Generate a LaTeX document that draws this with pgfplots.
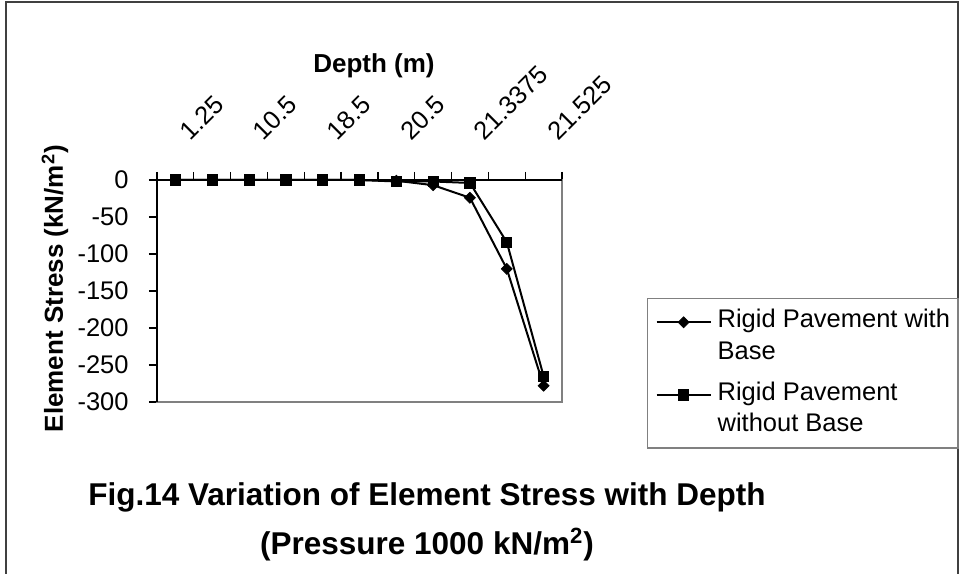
\documentclass[border=0pt]{standalone}
\usepackage{fontspec}
\setmainfont{Liberation Sans}
\usepackage{pgfplots}
\pgfplotsset{compat=1.18}
\begin{document}
\begin{tikzpicture}[x=1pt,y=1pt]
\useasboundingbox (0,0) rectangle (481.5,286.5);
\draw[line width=0.6pt, color=black!75] (3,-5) -- (3,285.5) -- (479,285.5) -- (479,-5);
\begin{axis}[
  at={(78.5pt,85.5pt)}, anchor=south west,
  scale only axis, width=202.5pt, height=111pt,
  xmin=-0.5, xmax=10.5, ymin=-300, ymax=0,
  clip=false,
  axis line style={draw=black!50, line width=0.6pt},
  xtick={0,2,4,6,8,10},
  xticklabels={1.25,10.5,18.5,20.5,21.3375,21.525},
  minor xtick={-0.5,0.5,1.5,2.5,3.5,4.5,5.5,6.5,7.5,8.5,9.5,10.5},
  xtick pos=right, xticklabel pos=right,
  tick align=outside, major tick length=4pt, minor tick length=4pt,
  tick style={black, line width=0.6pt},
  minor tick style={black, line width=0.6pt},
  every major x tick/.append style={draw=none},
  xticklabel style={font=\fontsize{12.75}{15}\selectfont, inner sep=0pt, anchor=south west, xshift=7.5pt, yshift=15pt, rotate=45},
  ytick={-300,-250,-200,-150,-100,-50,0},
  yticklabels={-300,-250,-200,-150,-100,-50,0},
  ytick pos=left,
  yticklabel style={font=\fontsize{12.75}{15}\selectfont, anchor=east, inner sep=0pt, xshift=-10pt},
  xlabel={Depth (m)},
  xlabel style={at={(axis description cs:0.5358,1.4851)}, anchor=base, font=\bfseries\fontsize{13}{15}\selectfont},
  ylabel={Element Stress (kN/m\textsuperscript{2})},
  ylabel style={at={(axis description cs:-0.2321,0.5104)}, anchor=base, font=\bfseries\fontsize{13}{15}\selectfont},
  legend style={at={(axis description cs:1.2099,0.4685)}, anchor=north west, draw=black!50, line width=0.6pt,
    inner xsep=4pt, inner ysep=3.5pt, column sep=3pt, row sep=4.75pt,
    cells={anchor=base west}, nodes={inner sep=0pt, text depth={}},
    font=\fontsize{12.75}{15.75}\selectfont},
  legend image code/.code={\draw[#1, mark repeat=2, mark phase=2] plot coordinates {(0pt,2.65pt) (13.5pt,2.65pt) (27pt,2.65pt)};},
]
\draw[black, line width=0.6pt] (rel axis cs:0,0) -- (rel axis cs:0,1) -- (rel axis cs:1,1);
\addplot[black, line width=1pt, mark=square*, mark size=1.92pt, mark options={rotate=45, solid, line width=0.4pt}]
  coordinates {(0,0) (1,0) (2,0) (3,0) (4,0) (5,0) (6,-1) (7,-7) (8,-24) (9,-120) (10,-278)};
\addlegendentry{{\begin{tabular}[t]{@{}l@{}}Rigid Pavement with\\Base\end{tabular}}}
\addplot[black, line width=1pt, mark=square*, mark size=2.55pt, mark options={solid, line width=0.4pt}]
  coordinates {(0,0) (1,0) (2,0) (3,0) (4,0) (5,0) (6,-2) (7,-2) (8,-4) (9,-84) (10,-265)};
\addlegendentry{{\begin{tabular}[t]{@{}l@{}}Rigid Pavement\\without Base\end{tabular}}}
\end{axis}
\node[anchor=base, font=\bfseries\fontsize{15.75}{18}\selectfont] at (213.5,34) {Fig.14 Variation of Element Stress with Depth};
\node[anchor=base, font=\bfseries\fontsize{15.75}{18}\selectfont] at (213.5,9.5) {(Pressure 1000 kN/m\textsuperscript{2})};
\end{tikzpicture}
\end{document}
